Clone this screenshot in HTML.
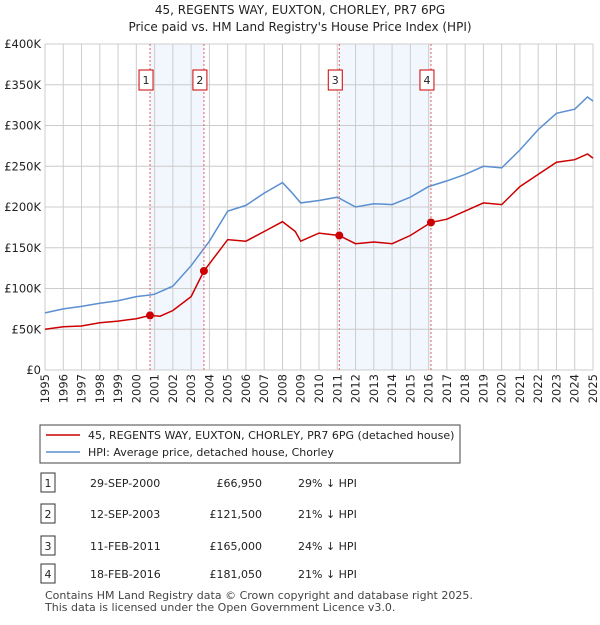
<!DOCTYPE html>
<html><head><meta charset="utf-8"><style>
body{margin:0;background:#fff;font-family:"Liberation Sans","DejaVu Sans",sans-serif;}
svg text{font-family:"DejaVu Sans","Liberation Sans",sans-serif;}
</style></head><body>
<svg id="chart" width="600" height="620" viewBox="0 0 600 620" xmlns="http://www.w3.org/2000/svg">
<text x="300" y="14" text-anchor="middle" font-size="12" fill="#222">45, REGENTS WAY, EUXTON, CHORLEY, PR7 6PG</text>
<text x="300" y="31" text-anchor="middle" font-size="12" fill="#222">Price paid vs. HM Land Registry's House Price Index (HPI)</text>
<g id="shade"></g><g id="grid"></g><g id="axes"></g><g id="lines"></g><g id="marks"></g>
<rect x="40" y="425" width="420" height="38" fill="#fff" stroke="#444"/>
<line x1="46" y1="435" x2="80" y2="435" stroke="#cc0000" stroke-width="1.5"/>
<text x="88" y="439" font-size="11" fill="#222">45, REGENTS WAY, EUXTON, CHORLEY, PR7 6PG (detached house)</text>
<line x1="46" y1="452" x2="80" y2="452" stroke="#5b8fd0" stroke-width="1.5"/>
<text x="88" y="456" font-size="11" fill="#222">HPI: Average price, detached house, Chorley</text>
<g id="table"></g>
<text x="45" y="599" font-size="11" fill="#444">Contains HM Land Registry data © Crown copyright and database right 2025.</text>
<text x="45" y="611" font-size="11" fill="#444">This data is licensed under the Open Government Licence v3.0.</text>
</svg>
<script>
const hpiYears=[1995,1996,1997,1998,1999,2000,2000.75,2001,2002,2003,2004,2005,2006,2007,2008,2008.5,2009,2010,2011,2012,2013,2014,2015,2016,2017,2018,2019,2020,2021,2022,2023,2024,2024.7,2025];
const hpiValues=[70,75,78,82,85,90,92,93,103,128,158,195,202,217,230,218,205,208,212,200,204,203,212,225,232,240,250,248,270,295,315,320,335,330];
const priceYears=[1995,1996,1997,1998,1999,2000,2000.75,2001.3,2002,2003,2003.7,2004.5,2005,2006,2007,2008,2008.7,2009,2010,2011.1,2012,2013,2014,2015,2016.13,2017,2018,2019,2020,2021,2022,2023,2024,2024.7,2025];
const priceValues=[50,53,54,58,60,63,66.95,66,73,90,121.5,145,160,158,170,182,170,158,168,165,155,157,155,165,181.05,185,195,205,203,225,240,255,258,265,260];
const saleYears=[2000.75,2003.7,2011.11,2016.13];
const saleValues=[66.95,121.5,165,181.05];
const saleLabels=["1","2","3","4"];
const saleDates=["29-SEP-2000","12-SEP-2003","11-FEB-2011","18-FEB-2016"];
const salePrices=["£66,950","£121,500","£165,000","£181,050"];
const saleDiffs=["29% ↓ HPI","21% ↓ HPI","24% ↓ HPI","21% ↓ HPI"];
const yTicks=[0,50,100,150,200,250,300,350,400];
const yTickLabels=["£0","£50K","£100K","£150K","£200K","£250K","£300K","£350K","£400K"];
const xTicks=[1995,1996,1997,1998,1999,2000,2001,2002,2003,2004,2005,2006,2007,2008,2009,2010,2011,2012,2013,2014,2015,2016,2017,2018,2019,2020,2021,2022,2023,2024,2025];

const NS="http://www.w3.org/2000/svg";
const X=y=>45+(y-1995)*(548/30);
const Y=v=>370-v*(326/400);
function mk(tag,attrs,parent,text){const e=document.createElementNS(NS,tag);for(const k in attrs)e.setAttribute(k,attrs[k]);if(text!==undefined)e.textContent=text;document.getElementById(parent).appendChild(e);return e;}

for(const [a,b] of [[0,1],[2,3]]){
 const r=mk('rect',{x:X(saleYears[a]),y:Y(400),width:X(saleYears[b])-X(saleYears[a]),height:Y(0)-Y(400),fill:'#f2f6fd'},'shade');
 
 
}
yTicks.forEach((v,i)=>{
 const l=mk('line',{x1:X(1995),x2:X(2025),y1:Y(v),y2:Y(v),stroke:'#ccc'},'grid');
 
 
 const t=mk('text',{x:41,y:Y(v)+4,'text-anchor':'end','font-size':11.5,fill:'#222'},'axes',yTickLabels[i]);
 
 
});
xTicks.forEach(yr=>{
 const l=mk('line',{x1:X(yr),x2:X(yr),y1:Y(400),y2:Y(0),stroke:'#ccc'},'grid');
 
 
 const t=mk('text',{x:0,y:0,'text-anchor':'end','font-size':11.5,fill:'#222',transform:`translate(${X(yr)+4},374) rotate(-90)`},'axes',String(yr));
 
 
});
saleYears.forEach((yr,i)=>{
 const l=mk('line',{x1:X(yr),x2:X(yr),y1:Y(400),y2:Y(0),stroke:'#e06060','stroke-dasharray':'2,2'},'marks');
 
 
 const r=mk('rect',{x:X(yr)-11,y:70,width:14,height:20,fill:'#fff',stroke:'#cc0000'},'marks');
 
 
 const t=mk('text',{x:X(yr)-4,y:84,'text-anchor':'middle','font-size':11,fill:'#222'},'marks',saleLabels[i]);
 
 
});
function path(xs,vs){return xs.map((x,i)=>(i?'L':'M')+X(x).toFixed(1)+','+Y(vs[i]).toFixed(1)).join('');}
const h=mk('path',{d:path(hpiYears,hpiValues),fill:'none',stroke:'#5b8fd0','stroke-width':1.5},'lines');


const p=mk('path',{d:path(priceYears,priceValues),fill:'none',stroke:'#cc0000','stroke-width':1.5},'lines');


saleYears.forEach((yr,i)=>{
 const c=mk('circle',{cx:X(yr),cy:Y(saleValues[i]),r:4,fill:'#cc0000'},'marks');
 
 
});
const rowsY=[483,514,546,574];
saleLabels.forEach((lab,i)=>{
 const y=rowsY[i];
 const r=mk('rect',{x:41,y:y-10,width:14,height:19,fill:'#fff',stroke:'#333'},'table');
 
 
 const t0=mk('text',{x:48,y:y+4,'text-anchor':'middle','font-size':11,fill:'#222'},'table',lab);
 
 
 const t1=mk('text',{x:90,y:y+4,'font-size':11,fill:'#222'},'table',saleDates[i]);
 
 
 const t2=mk('text',{x:262,y:y+4,'text-anchor':'end','font-size':11,fill:'#222'},'table',salePrices[i]);
 
 
 const t3=mk('text',{x:298,y:y+4,'font-size':11,fill:'#222'},'table',saleDiffs[i]);
 
 
});
</script>
</body></html>
